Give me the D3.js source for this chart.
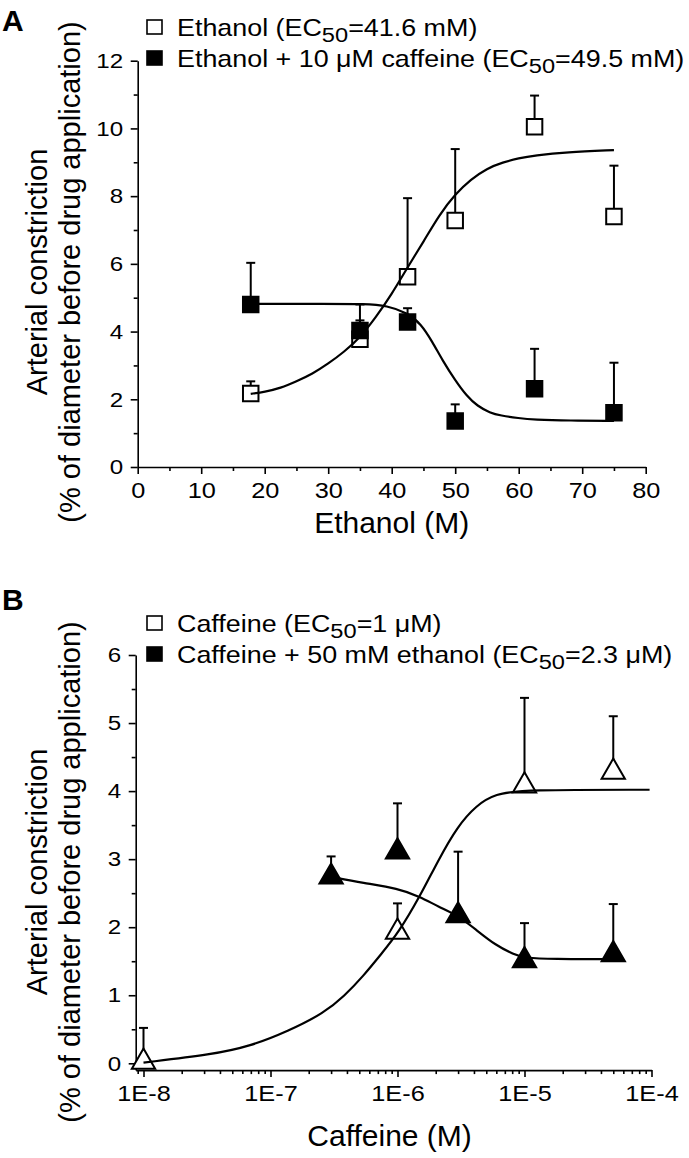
<!DOCTYPE html>
<html><head><meta charset="utf-8">
<script src="https://cdn.jsdelivr.net/npm/d3@7"></script>
<style>
body{margin:0;background:#fff}
text{font-family:"Liberation Sans",Arial,Helvetica,sans-serif;fill:#000}
</style>
</head><body>
<svg id="chart" width="689" height="1158"></svg>
<script>
// ---------- Panel A data (ethanol, mM) ----------
const ethanolConc      = [17.8, 35, 42.5, 50, 62.5, 75];
const ethanolResp      = [2.17, 3.77, 5.62, 7.28, 10.05, 7.40];
const ethanolSem       = [0.36, 0.56, 2.32, 2.11, 0.92, 1.50];
const ethCafResp       = [4.80, 4.03, 4.28, 1.36, 2.31, 1.60];
const ethCafSem        = [1.23, 0.77, 0.41, 0.49, 1.18, 1.48];
// fitted curves
const fitEthX   = [17.8, 20, 22.5, 25, 27.5, 30, 32.5, 35, 37.5, 40, 42.5, 45, 47.5, 50, 52.5, 55, 57.5, 60, 62.5, 67.5, 75];
const fitEthY   = [2.16, 2.22, 2.33, 2.53, 2.75, 3.05, 3.40, 3.82, 4.42, 5.10, 5.90, 6.65, 7.45, 8.06, 8.50, 8.82, 9.00, 9.12, 9.20, 9.30, 9.36];
const fitEthCafX = [17.8, 30, 35.7, 39.3, 42.5, 44.6, 46.4, 48, 50, 51.8, 53.5, 55.5, 57.1, 60, 62.4, 68, 75];
const fitEthCafY = [4.82, 4.82, 4.82, 4.77, 4.55, 4.23, 3.70, 3.15, 2.56, 2.10, 1.80, 1.60, 1.52, 1.44, 1.40, 1.37, 1.36];
const ticksXA = [0, 10, 20, 30, 40, 50, 60, 70, 80];
const ticksYA = [0, 2, 4, 6, 8, 10, 12];
const legendA = [
  {pre: "Ethanol (EC", sub: "50", post: "=41.6 mM)", filled: false},
  {pre: "Ethanol + 10 \u03bcM caffeine (EC", sub: "50", post: "=49.5 mM)", filled: true}
];

// ---------- Panel B data (caffeine, M) ----------
const cafConc     = [1e-8, 1e-6, 1e-5, 5e-5];
const cafResp     = [0.02, 1.93, 4.08, 4.28];
const cafSem      = [0.50, 0.42, 1.29, 0.82];
const cafEthConc  = [3e-7, 1e-6, 3e-6, 1e-5, 5e-5];
const cafEthResp  = [2.74, 3.11, 2.17, 1.51, 1.60];
const cafEthSem   = [0.30, 0.71, 0.94, 0.55, 0.74];
const fitCafX = [1e-8, 3.5e-8, 6.9e-8, 1.37e-7, 2.65e-7, 3.82e-7, 5.37e-7, 7.55e-7, 1.01e-6, 1.5e-6, 2.1e-6, 2.96e-6, 4.17e-6, 5.87e-6, 1e-5, 9.66e-5];
const fitCafY = [0.01, 0.13, 0.25, 0.47, 0.74, 0.99, 1.28, 1.62, 1.91, 2.45, 2.99, 3.48, 3.79, 3.96, 4.02, 4.02];
const fitCafEthX = [3e-7, 5.37e-7, 1.01e-6, 1.5e-6, 2.1e-6, 2.96e-6, 4.17e-6, 5.87e-6, 8.26e-6, 1e-5, 1.64e-5, 5.05e-5];
const fitCafEthY = [2.74, 2.65, 2.57, 2.45, 2.30, 2.18, 1.96, 1.74, 1.60, 1.55, 1.53, 1.53];
const ticksXB = [1e-8, 1e-7, 1e-6, 1e-5, 1e-4];
const tickLabelsXB = ["1E-8", "1E-7", "1E-6", "1E-5", "1E-4"];
const ticksYB = [0, 1, 2, 3, 4, 5, 6];
const legendB = [
  {pre: "Caffeine (EC", sub: "50", post: "=1 \u03bcM)", filled: false},
  {pre: "Caffeine + 50 mM ethanol (EC", sub: "50", post: "=2.3 \u03bcM)", filled: true}
];

const yTitle1 = "Arterial constriction";
const yTitle2 = "(% of diameter before drug application)";

const svg = d3.select("#chart");
svg.append("rect").attr("width", 689).attr("height", 1158).attr("fill", "#fff");

const FONT = '"Liberation Sans", Arial, sans-serif';
const SX = 1.15; // horizontal stretch of the printed lettering

function styleAxis(g, fs, side) {
  g.select(".domain").attr("stroke", "#000").attr("stroke-width", 1.6);
  g.selectAll(".tick line").attr("stroke", "#000").attr("stroke-width", 1.6);
  const t = g.selectAll(".tick text").attr("font-size", fs).attr("fill", "#000").style("font-family", FONT);
  if (side === "left") t.attr("x", -14.5 / SX).attr("transform", `scale(${SX},1)`);
  else t.attr("transform", `scale(${SX},1)`);
}

function drawPanel(o) {
  const g = svg.append("g");
  const x = o.x, y = o.y;
  // minor ticks
  g.append("g").attr("transform", `translate(0,${o.xAxisY})`)
    .call(d3.axisBottom(x).tickValues(o.minorX).tickSize(4).tickSizeOuter(0).tickFormat(""))
    .call(a => { a.select(".domain").remove(); a.selectAll(".tick line").attr("stroke", "#000").attr("stroke-width", 1.6); });
  g.append("g").attr("transform", `translate(${o.yAxisX},0)`)
    .call(d3.axisLeft(y).tickValues(o.minorY).tickSize(4).tickSizeOuter(0).tickFormat(""))
    .call(a => { a.select(".domain").remove(); a.selectAll(".tick line").attr("stroke", "#000").attr("stroke-width", 1.6); });
  // major axes
  g.append("g").attr("transform", `translate(0,${o.xAxisY})`)
    .call(d3.axisBottom(x).tickValues(o.ticksX).tickSize(7).tickSizeOuter(0).tickPadding(8).tickFormat(o.fmtX))
    .call(a => styleAxis(a, o.xTickFs, "bottom"));
  g.append("g").attr("transform", `translate(${o.yAxisX},0)`)
    .call(d3.axisLeft(y).tickValues(o.ticksY).tickSize(7).tickSizeOuter(0).tickPadding(7).tickFormat(d3.format("d")))
    .call(a => styleAxis(a, o.yTickFs, "left"));

  // error bars (upper only)
  const errs = [];
  o.series.forEach(s => s.xs.forEach((xv, i) => errs.push({x: xv, y: s.ys[i], e: s.sem[i]})));
  const eg = g.append("g").attr("stroke", "#000").attr("stroke-width", 2).attr("fill", "none");
  errs.forEach(d => {
    const px = x(d.x), py = y(d.y), pt = y(d.y + d.e);
    eg.append("line").attr("x1", px).attr("x2", px).attr("y1", py).attr("y2", pt);
    eg.append("line").attr("x1", px - 4.5).attr("x2", px + 4.5).attr("y1", pt).attr("y2", pt);
  });

  // markers
  o.series.forEach(s => {
    g.append("g").selectAll("path").data(s.xs.map((xv, i) => [xv, s.ys[i]])).join("path")
      .attr("transform", d => `translate(${x(d[0])},${y(d[1])})`)
      .attr("d", d3.symbol(o.symbol, o.symbolSize)())
      .attr("fill", s.filled ? "#000" : "#fff")
      .attr("stroke", "#000").attr("stroke-width", 2);
  });

  // fitted curves
  const line = d3.line().x(d => x(d[0])).y(d => y(d[1])).curve(d3.curveBasis);
  o.fits.forEach(f => {
    g.append("path").datum(f.xs.map((xv, i) => [xv, f.ys[i]]))
      .attr("d", line).attr("fill", "none").attr("stroke", "#000").attr("stroke-width", 2.2);
  });

  // legend
  o.legend.forEach((L, i) => {
    const by = o.legendY + i * o.legendDy;
    g.append("rect").attr("x", 147).attr("y", by - 16).attr("width", 15).attr("height", 14)
      .attr("fill", L.filled ? "#000" : "#fff").attr("stroke", "#000").attr("stroke-width", 1.6);
    const t = g.append("text").attr("transform", `translate(177,${by}) scale(${o.legendSx},1)`)
      .attr("font-size", o.legendFs);
    t.append("tspan").text(L.pre);
    t.append("tspan").attr("dy", 6).attr("font-size", o.legendFs * 0.88).text(L.sub);
    t.append("tspan").attr("dy", -6).text(L.post);
  });

  // axis titles
  g.append("text").attr("x", (x.range()[0] + x.range()[1]) / 2 + o.xTitleShift).attr("y", o.xTitleY)
    .attr("text-anchor", "middle").attr("font-size", 30).text(o.xTitle);
  g.append("text").attr("transform", `translate(47,${o.yTitleC}) rotate(-90)`)
    .attr("text-anchor", "middle").attr("font-size", 29).text(yTitle1);
  g.append("text").attr("transform", `translate(80,${o.yTitleC}) rotate(-90)`)
    .attr("text-anchor", "middle").attr("font-size", 29).text(yTitle2);
  // panel letter
  g.append("text").attr("x", 2).attr("y", o.letterY).attr("font-size", 30)
    .attr("font-weight", "bold").text(o.letter);
}

// Panel A
const xA = d3.scaleLinear().domain([0, 80]).range([137.7, 645.7]);
const yA = d3.scaleLinear().domain([0, 12]).range([467, 60.7]);
drawPanel({
  x: xA, y: yA, xAxisY: 467, yAxisX: 137.7,
  ticksX: ticksXA, ticksY: ticksYA,
  minorX: d3.range(5, 80, 10), minorY: d3.range(1, 12, 2),
  fmtX: d3.format("d"), xTickFs: 22, yTickFs: 21,
  series: [
    {xs: ethanolConc, ys: ethanolResp, sem: ethanolSem, filled: false},
    {xs: ethanolConc, ys: ethCafResp, sem: ethCafSem, filled: true}
  ],
  symbol: d3.symbolSquare, symbolSize: 240,
  fits: [{xs: fitEthX, ys: fitEthY}, {xs: fitEthCafX, ys: fitEthCafY}],
  legend: legendA, legendY: 36, legendDy: 31, legendFs: 24, legendSx: 1.12,
  xTitle: "Ethanol (M)", xTitleY: 533, xTitleShift: 0, yTitleC: 272,
  letter: "A", letterY: 31
});

// Panel B
const xB = d3.scaleLog().domain([Math.pow(10, -8 - 7.8 / 127), 1e-4]).range([135.7, 651.5]);
const yB = d3.scaleLinear().domain([-0.1, 6]).range([1070.1, 655]);
const minorB = [];
[-9, -8, -7, -6, -5].forEach(e => { for (let m = 2; m <= 9; m++) { const v = m * Math.pow(10, e); if (v >= xB.domain()[0] && v < 1e-4) minorB.push(v); } });
drawPanel({
  x: xB, y: yB, xAxisY: 1070.1, yAxisX: 135.7,
  ticksX: ticksXB, ticksY: ticksYB,
  minorX: minorB, minorY: d3.range(0.5, 6, 1),
  fmtX: (d) => tickLabelsXB[ticksXB.indexOf(d)], xTickFs: 22, yTickFs: 21,
  series: [
    {xs: cafConc, ys: cafResp, sem: cafSem, filled: false},
    {xs: cafEthConc, ys: cafEthResp, sem: cafEthSem, filled: true}
  ],
  symbol: d3.symbolTriangle, symbolSize: 235,
  fits: [{xs: fitCafX, ys: fitCafY}, {xs: fitCafEthX, ys: fitCafEthY}],
  legend: legendB, legendY: 632, legendDy: 31, legendFs: 24, legendSx: 1.12,
  xTitle: "Caffeine (M)", xTitleY: 1146, xTitleShift: -4, yTitleC: 872,
  letter: "B", letterY: 610
});
</script>
</body></html>
